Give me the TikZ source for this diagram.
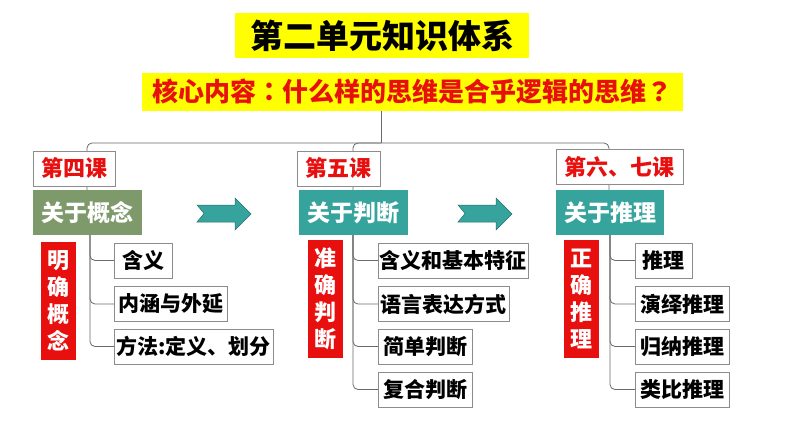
\documentclass[tikz,border=0pt]{standalone}
\usepackage{fontspec}
\setmainfont{Noto Sans CJK SC}
\newfontfamily\punctfont{Noto Sans CJK TC}
\definecolor{hlyellow}{HTML}{FFFF00}
\definecolor{keyred}{HTML}{E8100F}
\definecolor{topolive}{HTML}{7E9A6B}
\definecolor{topteal}{HTML}{36A39D}
\definecolor{boxgray}{HTML}{8C8C8C}
\definecolor{linegray}{HTML}{6A6A6A}

\begin{document}
\begin{tikzpicture}[
      x=1pt,y=-1pt,
      hl/.style={fill=hlyellow,inner sep=0pt},
      lesson/.style={draw=boxgray,fill=white,text=keyred,font=\fontsize{22}{26}\selectfont\bfseries,minimum height=35pt,inner sep=0pt},
      topic/.style={text=white,font=\fontsize{23}{27}\selectfont\bfseries,minimum width=109pt,minimum height=45pt,inner sep=0pt},
      goal/.style={fill=keyred,text=white,align=center,font=\fontsize{22}{27}\selectfont\bfseries,minimum width=35pt,minimum height=118pt,inner sep=0pt},
      leaf/.style={draw=boxgray,fill=white,font=\fontsize{21}{25}\selectfont\bfseries,minimum height=35pt,inner sep=0pt,anchor=west},
      conn/.style={draw=linegray,line width=0.8pt,rounded corners=5pt},
      flow/.style={fill=topteal,draw=topteal!70!black,line width=0.5pt},
    ]
    \useasboundingbox (0,0) rectangle (794,447);
    \node[hl,minimum width=294pt,minimum height=45pt,font=\fontsize{33}{38}\selectfont\bfseries] (title) at (382,35.5) {第二单元知识体系};
    \node[hl,text=keyred,minimum width=541pt,minimum height=38pt,font=\fontsize{26}{30}\selectfont\bfseries] (core) at (412.5,92) {核心内容{\punctfont\bfseries ：}什么样的思维是合乎逻辑的思维{\punctfont\bfseries ？}};
    \coordinate (hub) at (381,143);
    \coordinate (b4) at (87,190);
    \coordinate (b5) at (353,190);
    \coordinate (b6) at (609,190);
    \draw[conn] (core.south -| hub) -- (hub);
    \foreach \b in {b4,b5,b6}
      \draw[conn] (hub) -| (\b);
    \node[lesson,minimum width=82pt] (l4) at (74,168.5) {第四课};
    \node[lesson,minimum width=83pt] (l5) at (338.5,168.5) {第五课};
    \node[lesson,minimum width=127pt] (l6) at (619.5,167) {第六、七课};
    \node[topic,fill=topolive] (g4) at (87.5,212.5) {关于概念};
    \node[topic,fill=topteal] (g5) at (353.5,212.5) {关于判断};
    \node[topic,fill=topteal,minimum width=108pt] (g6) at (610,212.5) {关于推理};
    \node[goal] (r4) at (58.5,300.5) {明\\确\\概\\念};
    \node[goal] (r5) at (325,299) {准\\确\\判\\断};
    \node[goal] (r6) at (581,299) {正\\确\\推\\理};
    \foreach \ax in {197,458}
      \filldraw[flow] (\ax,205) -- (\ax+38,205) -- (\ax+38,198) -- (\ax+54,214)
        -- (\ax+38,230) -- (\ax+38,222) -- (\ax,222) -- (\ax+7,213.5) -- cycle;
    \foreach \n/\y/\w/\t in {c41/260.5/58/含义, c42/304/113/内涵与外延, c43/346.5/159/方法:定义、划分}
      \node[leaf,minimum width=\w pt] (\n) at (114,\y) {\t};
    \foreach \n/\y/\w/\t in {c51/260.5/150/含义和基本特征, c52/304/131/语言表达方式, c53/346.5/94/简单判断, c54/389.5/94/复合判断}
      \node[leaf,minimum width=\w pt] (\n) at (378,\y) {\t};
    \foreach \n/\y/\w/\t in {c61/260.5/57/推理, c62/304/94/演绎推理, c63/346.5/94/归纳推理, c64/389.5/94/类比推理}
      \node[leaf,minimum width=\w pt] (\n) at (635,\y) {\t};
    \coordinate (t4) at (90,235);
    \coordinate (t5) at (353,235);
    \coordinate (t6) at (610,235);
    \foreach \n in {c41,c42,c43}
      \draw[conn] (t4) |- (\n.west);
    \foreach \n in {c51,c52,c53,c54}
      \draw[conn] (t5) |- (\n.west);
    \foreach \n in {c61,c62,c63,c64}
      \draw[conn] (t6) |- (\n.west);
  \end{tikzpicture}
\end{document}
